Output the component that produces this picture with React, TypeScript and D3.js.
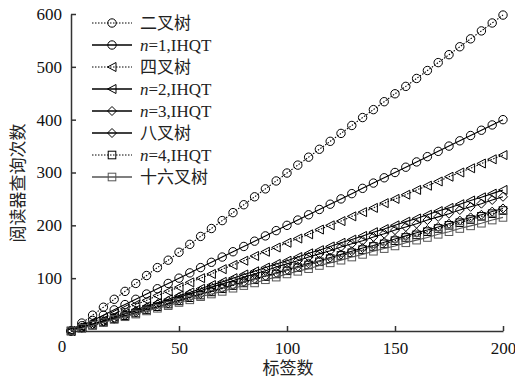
import React, { useEffect, useRef } from "react";
import * as d3 from "d3";

// tag counts on the x axis (every 5 tags)
const tagCounts = [
  0, 5, 10, 15, 20, 25, 30, 35, 40, 45, 50, 55, 60, 65, 70, 75, 80, 85, 90, 95, 100,
  105, 110, 115, 120, 125, 130, 135, 140, 145, 150, 155, 160, 165, 170, 175, 180, 185, 190, 195, 200,
];

// reader query counts
const binaryTree = [
  0, 15, 30, 45, 60, 75, 90, 105, 120, 134, 149, 164, 179, 194, 209, 224, 239, 254, 269, 284, 299,
  314, 329, 344, 359, 374, 389, 404, 419, 434, 449, 463, 478, 493, 508, 523, 538, 553, 568, 583, 598,
];
const ihqtN1 = [
  0, 10, 20, 30, 40, 50, 60, 70, 80, 90, 100, 110, 120, 130, 140, 150, 160, 170, 180, 190, 200,
  210, 220, 230, 240, 250, 260, 270, 280, 290, 300, 310, 320, 330, 340, 350, 360, 370, 380, 390, 400,
];
const quadTree = [
  0, 8, 17, 25, 33, 42, 50, 58, 67, 75, 83, 92, 100, 108, 117, 125, 133, 142, 150, 158, 167,
  175, 183, 192, 200, 208, 217, 225, 233, 242, 250, 258, 267, 275, 283, 292, 300, 308, 317, 325, 333,
];
const ihqtN2 = [
  0, 7, 13, 20, 27, 33, 40, 47, 53, 60, 67, 73, 80, 87, 93, 100, 107, 113, 120, 127, 133,
  140, 147, 153, 160, 167, 173, 180, 187, 193, 200, 207, 213, 220, 227, 233, 240, 247, 253, 260, 267,
];
const ihqtN3 = [
  0, 6, 13, 19, 25, 32, 38, 44, 51, 57, 64, 70, 76, 83, 89, 95, 102, 108, 114, 121, 127,
  133, 140, 146, 152, 159, 165, 171, 178, 184, 191, 197, 203, 210, 216, 222, 229, 235, 241, 248, 254,
];
const octTree = [
  0, 6, 12, 17, 23, 29, 35, 41, 46, 52, 58, 64, 70, 75, 81, 87, 93, 99, 104, 110, 116,
  122, 128, 133, 139, 145, 151, 157, 162, 168, 174, 180, 186, 191, 197, 203, 209, 215, 220, 226, 232,
];
const ihqtN4 = [
  0, 6, 11, 17, 23, 29, 34, 40, 46, 51, 57, 63, 68, 74, 80, 86, 91, 97, 103, 108, 114,
  120, 125, 131, 137, 143, 148, 154, 160, 165, 171, 177, 182, 188, 194, 200, 205, 211, 217, 222, 228,
];
const hexTree = [
  0, 5, 11, 16, 22, 27, 32, 38, 43, 48, 54, 59, 65, 70, 75, 81, 86, 91, 97, 102, 108,
  113, 118, 124, 129, 134, 140, 145, 151, 156, 161, 167, 172, 177, 183, 188, 194, 199, 204, 210, 215,
];

const xTicks = [50, 100, 150, 200];
const yTicks = [100, 200, 300, 400, 500, 600];

const series = [
  { label: "二叉树", values: binaryTree, marker: "circle", dash: "1.5,1.5", color: "#000" },
  { label: "n=1,IHQT", values: ihqtN1, marker: "circle", dash: null, color: "#000" },
  { label: "四叉树", values: quadTree, marker: "triangle", dash: "1.5,1.5", color: "#000" },
  { label: "n=2,IHQT", values: ihqtN2, marker: "triangle", dash: null, color: "#000" },
  { label: "n=3,IHQT", values: ihqtN3, marker: "diamond", dash: null, color: "#000" },
  { label: "八叉树", values: octTree, marker: "diamond", dash: null, color: "#000" },
  { label: "n=4,IHQT", values: ihqtN4, marker: "square", dash: "1.5,1.5", color: "#000" },
  { label: "十六叉树", values: hexTree, marker: "square", dash: null, color: "#555" },
];

const FONT = "'Liberation Serif', 'Noto Sans CJK SC', serif";

function drawMarker(g, type, x, y, color) {
  if (type === "circle") {
    g.append("circle").attr("cx", x).attr("cy", y).attr("r", 4.2)
      .attr("fill", "none").attr("stroke", color).attr("stroke-width", 1);
  } else if (type === "triangle") {
    g.append("path")
      .attr("d", `M${x - 4.5},${y} L${x + 4},${y - 4.5} L${x + 4},${y + 4.5} Z`)
      .attr("fill", "none").attr("stroke", color).attr("stroke-width", 1);
  } else if (type === "diamond") {
    g.append("path")
      .attr("d", `M${x},${y - 4.5} L${x + 4.5},${y} L${x},${y + 4.5} L${x - 4.5},${y} Z`)
      .attr("fill", "none").attr("stroke", color).attr("stroke-width", 1);
  } else {
    g.append("rect").attr("x", x - 3.8).attr("y", y - 3.8).attr("width", 7.6).attr("height", 7.6)
      .attr("fill", "none").attr("stroke", color).attr("stroke-width", 1);
  }
}

export default function App() {
  const ref = useRef(null);

  useEffect(() => {
    const svg = d3.select(ref.current);
    svg.selectAll("*").remove();

    const x = d3.scaleLinear().domain([0, 200]).range([71, 503]);
    const y = d3.scaleLinear().domain([0, 600]).range([331, 14]);

    // axes
    const xAxis = svg.append("g").attr("transform", "translate(0,331)")
      .call(d3.axisBottom(x).tickValues(xTicks).tickSizeInner(-5).tickSizeOuter(0).tickPadding(10));
    const yAxis = svg.append("g").attr("transform", "translate(71,0)")
      .call(d3.axisLeft(y).tickValues(yTicks).tickSizeInner(-5).tickSizeOuter(0).tickPadding(9));
    [xAxis, yAxis].forEach((a) => {
      a.select(".domain").attr("stroke", "#333").attr("stroke-width", 1.5);
      a.selectAll(".tick line").attr("stroke", "#333").attr("stroke-width", 1.5);
      a.selectAll(".tick text").attr("fill", "#111").style("font-family", FONT).style("font-size", "17px");
    });
    xAxis.selectAll(".tick text").attr("dy", "0.75em");

    // origin label
    svg.append("text").attr("x", 62).attr("y", 352).attr("text-anchor", "middle")
      .style("font-family", FONT).style("font-size", "17px").attr("fill", "#111").text("0");

    // series
    const line = d3.line().x((d) => x(d[0])).y((d) => y(d[1]));
    series.forEach((s) => {
      const pts = tagCounts.map((t, i) => [t, s.values[i]]);
      const g = svg.append("g");
      pts.forEach((p) => drawMarker(g, s.marker, x(p[0]), y(p[1]), s.color));
      g.append("path").datum(pts).attr("d", line).attr("fill", "none")
        .attr("stroke", s.color).attr("stroke-width", 1.1)
        .attr("stroke-dasharray", s.dash);
    });

    // legend
    const lg = svg.append("g");
    series.forEach((s, i) => {
      const ly = 23 + i * 22;
      lg.append("line").attr("x1", 92).attr("x2", 132).attr("y1", ly).attr("y2", ly)
        .attr("stroke", s.color).attr("stroke-width", s.dash ? 1 : 1.3)
        .attr("stroke-dasharray", s.dash);
      drawMarker(lg, s.marker, 112, ly, s.color);
      const t = lg.append("text").attr("x", 140).attr("y", ly + 6)
        .style("font-family", FONT).style("font-size", "17px").attr("fill", "#222");
      if (s.label.startsWith("n=")) {
        t.append("tspan").style("font-style", "italic").text("n");
        t.append("tspan").text(s.label.slice(1));
      } else {
        t.text(s.label);
      }
    });

    // axis titles
    svg.append("text").attr("x", 288).attr("y", 374).attr("text-anchor", "middle")
      .style("font-family", FONT).style("font-size", "17px").attr("fill", "#222").text("标签数");
    svg.append("text").attr("transform", "translate(24,183) rotate(-90)").attr("text-anchor", "middle")
      .style("font-family", FONT).style("font-size", "17px").attr("fill", "#222").text("阅读器查询次数");
  }, []);

  return (
    <svg ref={ref} width={515} height={378}
      style={{ position: "absolute", left: 0, top: 0, background: "#fff" }} />
  );
}
